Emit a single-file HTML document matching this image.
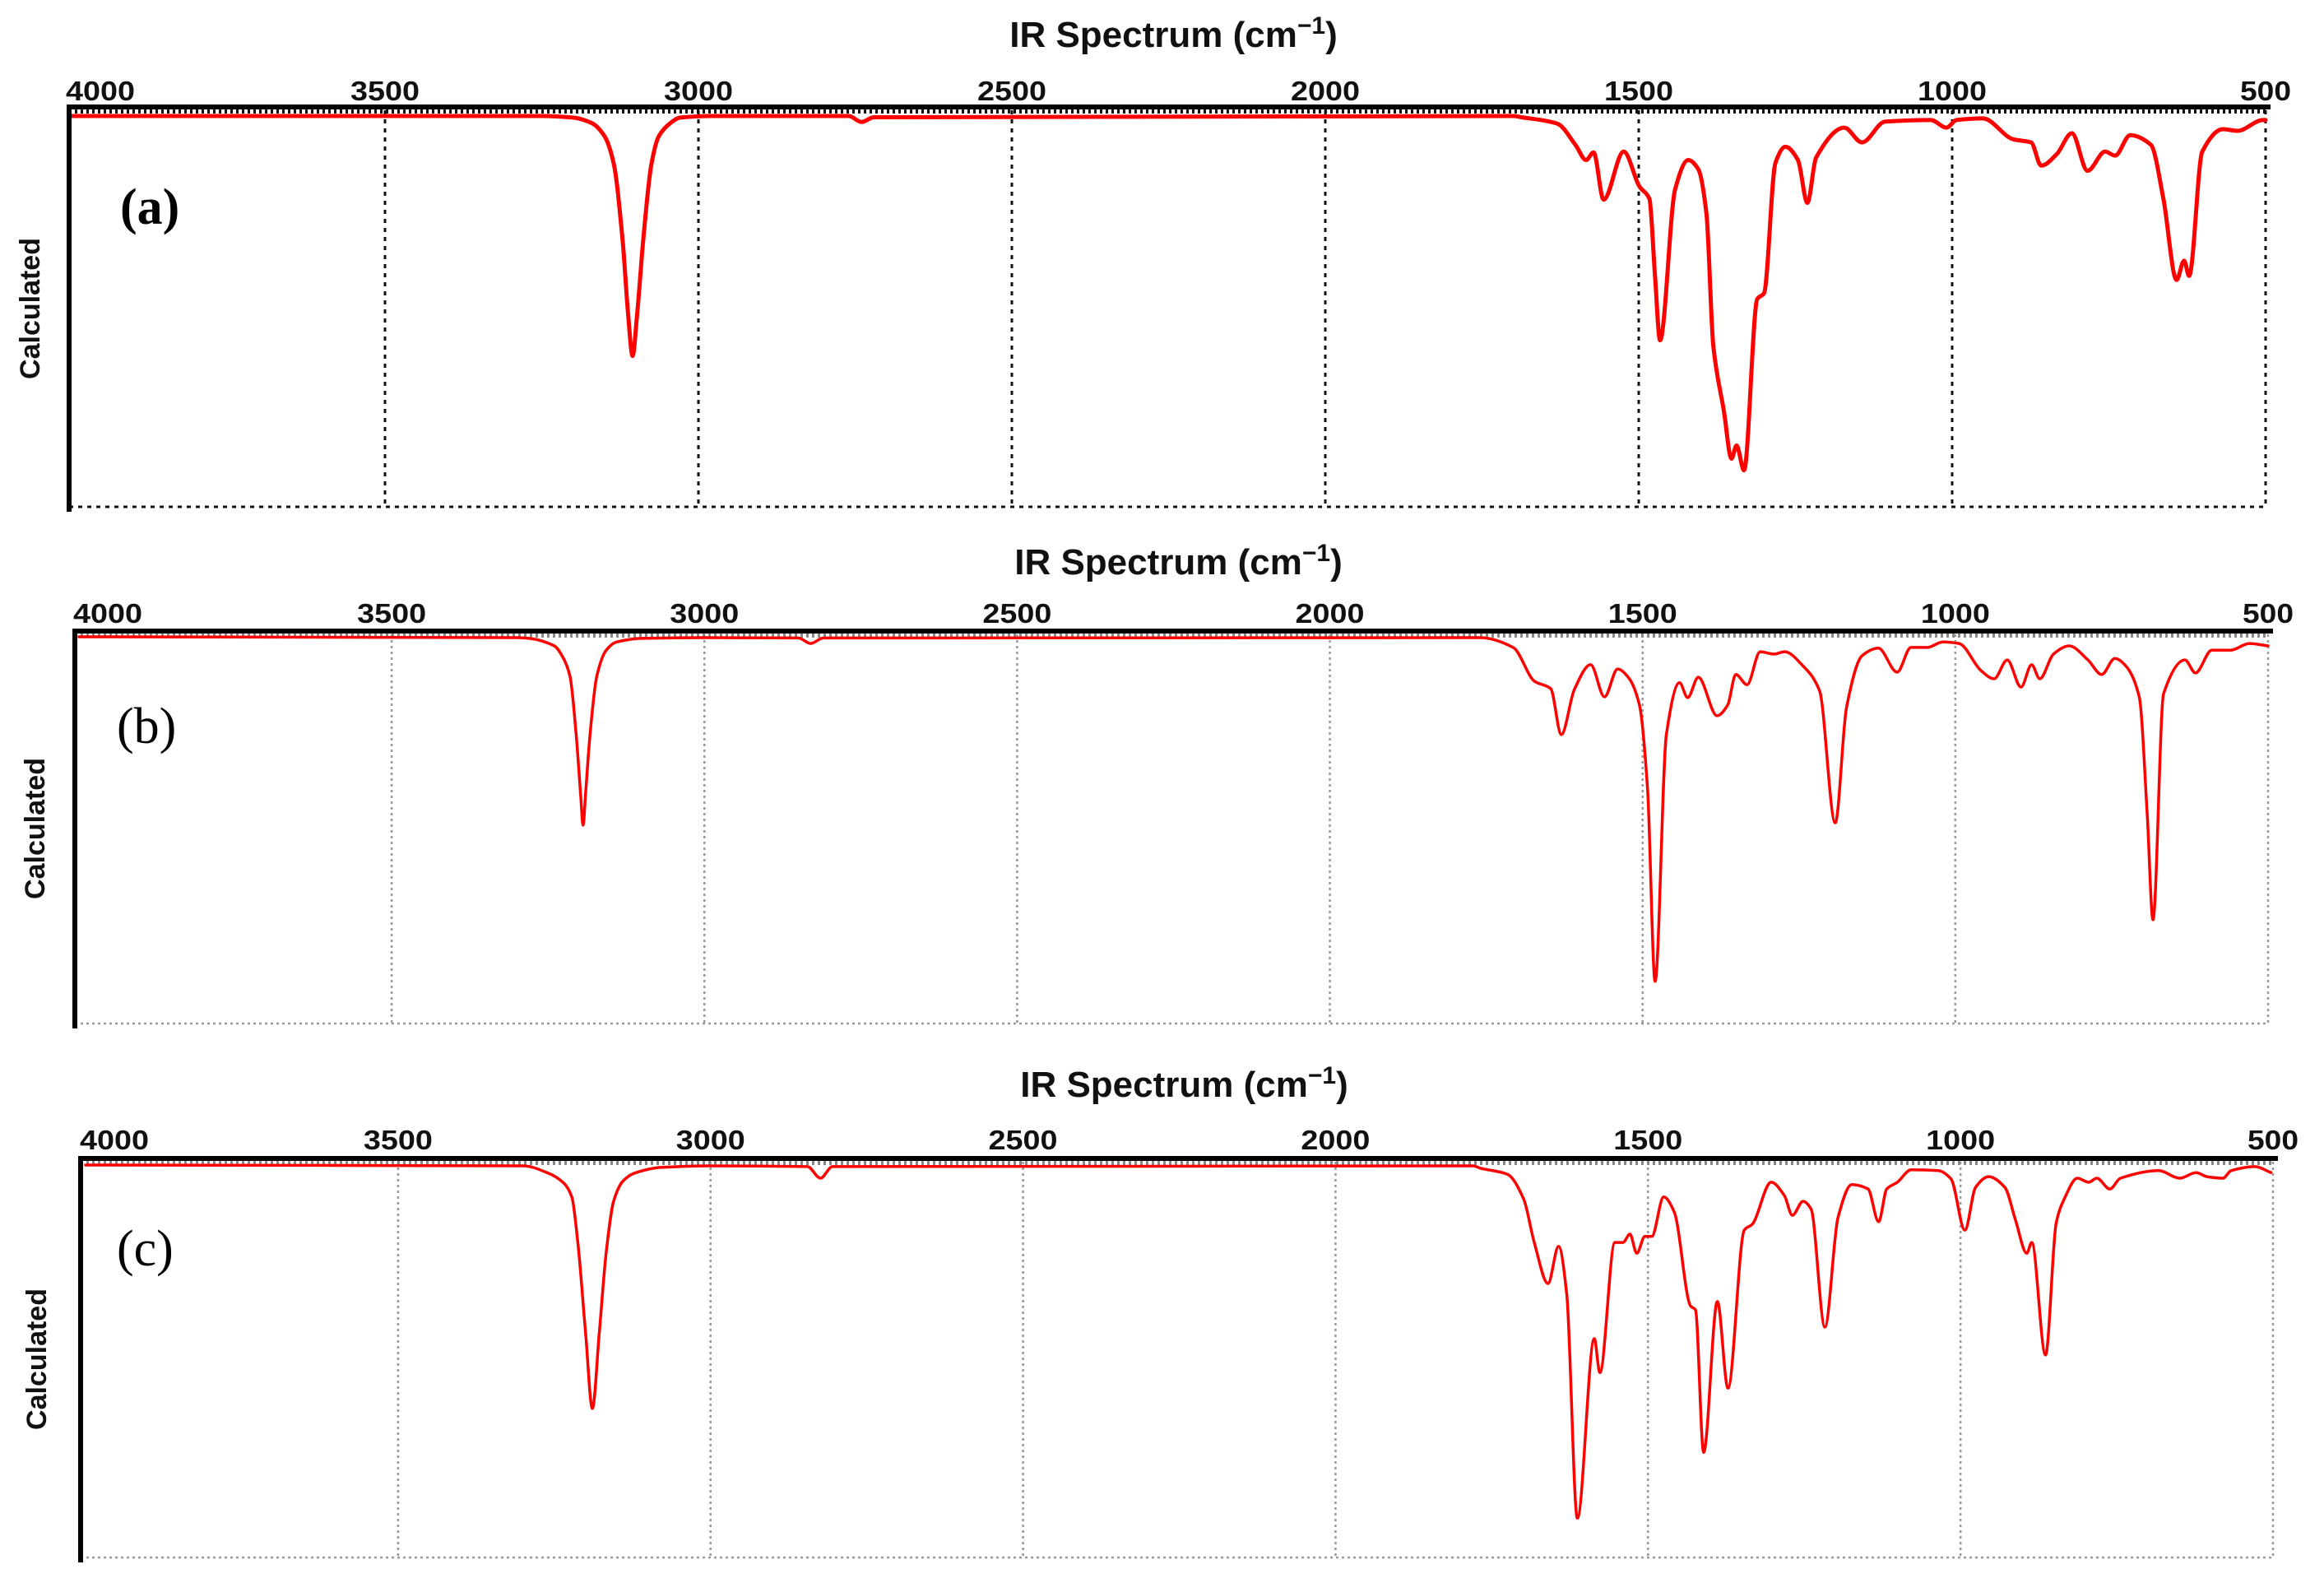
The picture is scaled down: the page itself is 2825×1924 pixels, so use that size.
<!DOCTYPE html>
<html><head><meta charset="utf-8"><style>
html,body{margin:0;padding:0;background:#fff;}
svg{display:block;}
</style></head><body>
<svg id="chart" xmlns="http://www.w3.org/2000/svg" width="2825" height="1924" viewBox="0 0 2825 1924">
<rect x="0" y="0" width="2825" height="1924" fill="#fff"/>
</svg>
<script>
// x tick labels (wavenumber, cm^-1)
const tickLabels = [4000, 3500, 3000, 2500, 2000, 1500, 1000, 500];
// Panel (a) spectrum: wavenumbers and absorption depth (% of plot height)
const waveA = [4000,3300,3250,3200,3170,3150,3135,3121,3112,3105,3098,3088,3075,3063,3045,3029,2980,2760,2740,2720,1700,1687,1630,1601,1584,1572,1556,1524,1499,1483,1474,1466,1442,1421,1405,1392,1381,1364,1352,1344,1332,1311,1300,1282,1266,1246,1231,1217,1172,1144,1107,1034,1009,993,951,903,874,858,833,809,784,756,740,716,683,663,642,630,622,601,568,545,504,500];
const valA = [0,0,0,0.4,1.8,5,12,31,50,60,50,31,12,5,1.8,0.4,0,0,1.5,0.3,0,0.3,1.9,7.2,11,9.1,20.9,8.9,17.6,20.7,40,56.1,18.4,11,13.3,24.4,57.6,73.9,85.7,82.4,88.6,45.8,44.3,11.8,7.7,11,21.7,10.4,2.9,6.6,1.4,1,2.9,1,0.6,5.8,6.6,12.4,9.5,4.3,13.7,8.9,9.9,4.8,7.2,20.7,41,36.2,40,8.9,3.3,3.7,1,1];
// Panel (b)
const waveB = [4000,3300,3280,3240,3227,3215,3205,3198,3194,3190,3183,3172,3157,3140,3100,3000,2850,2830,2810,1780,1759,1707,1673,1647,1630,1609,1583,1561,1540,1523,1505,1492,1480,1462,1441,1428,1411,1381,1364,1351,1333,1312,1290,1273,1243,1217,1192,1174,1149,1123,1093,1071,1045,1020,994,959,938,917,895,878,865,843,818,788,766,745,727,706,693,684,667,633,616,590,560,530,500];
const valB = [0,0.2,0.4,2.3,5,10,25,40,48,40,25,10,3.4,1.3,0.4,0.2,0.3,1.7,0.3,0.2,0.2,2.7,11.3,13.2,24.9,13.4,7.1,15.3,8.2,10.3,17.4,39,87.8,24.9,11.7,15.5,10.3,20.1,17.4,9.6,12.2,3.8,4.4,3.8,7.5,13.8,47.4,18,4.8,2.9,9,2.7,2.7,1.3,1.7,8.6,10.7,5.9,12.8,7.1,10.7,4.4,2.3,5.9,9.6,5.5,7.5,15.3,45.9,72.1,14.5,5.9,9.2,3.4,3.4,1.7,2.3];
// Panel (c)
const waveC = [4000,3300,3260,3235,3222,3212,3200,3189,3178,3167,3155,3140,3121,3080,3000,2845,2824,2805,1780,1768,1725,1699,1682,1660,1643,1630,1613,1586,1577,1553,1540,1529,1518,1505,1494,1475,1458,1432,1424,1411,1389,1372,1346,1333,1303,1282,1269,1252,1239,1217,1196,1174,1148,1131,1118,1101,1079,1036,1015,993,976,955,929,912,894,886,864,847,834,813,795,782,761,744,683,649,623,606,580,567,529,503];
const valC = [0,0.2,2,4.5,8,20,42,61,42,22,9,4,2,0.6,0.2,0.4,3.3,0.4,0.2,0.8,2.3,8.5,19.4,29.7,20.4,32.4,88.5,43.5,52,19.4,19.4,17.3,22.1,17.9,17.9,8,11.8,35.3,36.3,72,34.2,55.9,16.3,14.8,4.3,7.6,12.6,9.1,11.1,40.6,13.2,4.9,6,14.2,6,4.3,1.2,1.4,3.5,16.3,5.6,2.9,5.6,13.8,22.1,19.4,47.6,14.6,8.5,3.3,4.3,3.3,6,3.3,1.4,3.3,1.9,2.9,3.3,1.4,0.4,1.9];

const NS = 'http://www.w3.org/2000/svg';
const svg = document.getElementById('chart');
function mk(tag, attrs, parent) {
  const e = document.createElementNS(NS, tag);
  for (const k in attrs) e.setAttribute(k, attrs[k]);
  (parent || svg).appendChild(e);
  return e;
}
// monotone cubic path through points (x ascending)
function monotonePath(P) {
  const n = P.length;
  const d = [], m = [];
  for (let i = 0; i < n - 1; i++) d.push((P[i+1][1] - P[i][1]) / (P[i+1][0] - P[i][0]));
  m.push(d[0]);
  for (let i = 1; i < n - 1; i++) {
    if (d[i-1] * d[i] <= 0) m.push(0);
    else m.push(2 / (1 / d[i-1] + 1 / d[i]));
  }
  m.push(d[n-2]);
  let s = 'M' + P[0][0].toFixed(1) + ',' + P[0][1].toFixed(1);
  for (let i = 0; i < n - 1; i++) {
    const h = P[i+1][0] - P[i][0];
    const c1x = P[i][0] + h / 3, c1y = P[i][1] + m[i] * h / 3;
    const c2x = P[i+1][0] - h / 3, c2y = P[i+1][1] - m[i+1] * h / 3;
    s += 'C' + c1x.toFixed(1) + ',' + c1y.toFixed(1) + ' ' + c2x.toFixed(1) + ',' + c2y.toFixed(1) + ' ' + P[i+1][0].toFixed(1) + ',' + P[i+1][1].toFixed(1);
  }
  return s;
}

const panels = [
  {id:'a', x0:87, x1:2754, axisX:84, top:130, bottom:616, base:141, titleY:57, tickY:122, yLabelY:375, yLabelX:36,
   label:'(a)', labelX:146, labelY:272, labelBold:true, wave:waveA, val:valA, lw:5, gridColor:'#111', gridW:3, gridDash:'5 6'},
  {id:'b', x0:96, x1:2757, axisX:91, top:767, bottom:1244, base:774, titleY:698, tickY:757, yLabelY:1007, yLabelX:42,
   label:'(b)', labelX:142, labelY:903, labelBold:false, wave:waveB, val:valB, lw:3.5, gridColor:'#9a9a9a', gridW:2.5, gridDash:'3 4'},
  {id:'c', x0:104, x1:2763, axisX:98, top:1408, bottom:1893, base:1416, titleY:1333, tickY:1397, yLabelY:1652, yLabelX:44,
   label:'(c)', labelX:142, labelY:1538, labelBold:false, wave:waveC, val:valC, lw:3.5, gridColor:'#9a9a9a', gridW:2.5, gridDash:'3 4'}
];

panels.forEach(p => {
  const g = mk('g', {});
  
  
  const xS = w => p.x0 + (4000 - w) / 3500 * (p.x1 - p.x0);
  const yS = v => p.base + v / 100 * (p.bottom - p.top);

  tickLabels.forEach(t => {
    if (t === 4000) return;
    const gl = mk('line', {x1:xS(t), x2:xS(t), y1:p.top+4, y2:p.bottom, stroke:p.gridColor, 'stroke-width':p.gridW, 'stroke-dasharray':p.gridDash}, g);
    
    
  });
  const bb = mk('line', {x1:p.axisX, x2:p.x1, y1:p.bottom, y2:p.bottom, stroke:p.gridColor, 'stroke-width':p.gridW, 'stroke-dasharray':p.gridDash}, g);
  
  
  const mt = mk('line', {x1:p.axisX, x2:p.x1, y1:p.top+5, y2:p.top+5, stroke:p.id==='a'?'#111':'#888', 'stroke-width':6, 'stroke-dasharray':'3 4'}, g);
  
  

  const pts = p.wave.map((w, i) => [xS(w), yS(p.val[i])]);
  const line = mk('path', {d:monotonePath(pts), fill:'none', stroke:'#ff0000', 'stroke-width':p.lw, 'stroke-linejoin':'round', 'stroke-linecap':'round'}, g);
  
  

  const ta = mk('line', {x1:p.axisX-3, x2:p.x1+6, y1:p.top, y2:p.top, stroke:'#000', 'stroke-width':6}, g);
  
  
  const la = mk('line', {x1:p.axisX, x2:p.axisX, y1:p.top-3, y2:p.bottom+6, stroke:'#000', 'stroke-width':6}, g);
  
  

  tickLabels.forEach(t => {
    const isFirst = t === 4000;
    const tx = mk('text', {x: isFirst ? xS(t) - 7 : xS(t), y:p.tickY, 'text-anchor': isFirst ? 'start' : 'middle',
      'font-family':'Liberation Sans, sans-serif', 'font-size':33, 'font-weight':'bold', fill:'#111',
      textLength: t >= 1000 ? 84 : 62, lengthAdjust:'spacingAndGlyphs'}, g);
    tx.textContent = t;
    
    
  });

  const ti = mk('text', {x:(p.x0+p.x1)/2 + 6, y:p.titleY, 'text-anchor':'middle', 'font-family':'Liberation Sans, sans-serif',
    'font-size':44, 'font-weight':'bold', fill:'#111'}, g);
  
  
  ti.appendChild(document.createTextNode('IR Spectrum (cm'));
  const sup = mk('tspan', {dy:-16, 'font-size':30}, ti);
  sup.textContent = '\u22121';
  const cl = mk('tspan', {dy:16}, ti);
  cl.textContent = ')';

  const yl = mk('text', {x:0, y:0, transform:'translate(' + (p.yLabelX + 12) + ',' + p.yLabelY + ') rotate(-90)', 'text-anchor':'middle',
    'font-family':'Liberation Sans, sans-serif', 'font-size':34, 'font-weight':'bold', fill:'#111'}, g);
  yl.textContent = 'Calculated';
  
  

  const pl = mk('text', {x:p.labelX, y:p.labelY, 'font-family':'Liberation Serif, serif', 'font-size':62,
    'font-weight':p.labelBold ? 'bold' : 'normal', fill:'#000'}, g);
  pl.textContent = p.label;
  
  
});
</script>
</body></html>
